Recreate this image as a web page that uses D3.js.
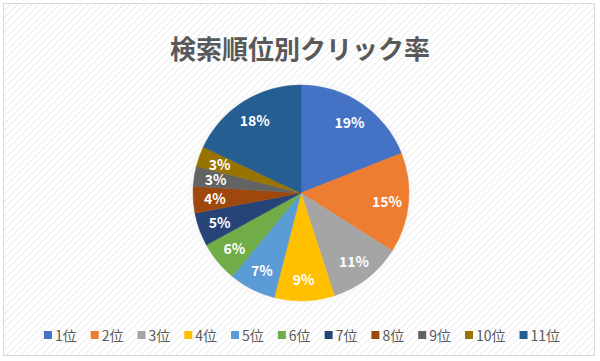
<!DOCTYPE html>
<html>
<head>
<meta charset="utf-8">
<script src="https://cdn.jsdelivr.net/npm/d3@7"></script>
<style>
  body { margin: 0; background: #fff; }
  text { font-family: "Noto Sans CJK JP", "Noto Sans", sans-serif; }
</style>
</head>
<body>
<script>
var title = "検索順位別クリック率";
var categories = ["1位", "2位", "3位", "4位", "5位", "6位", "7位", "8位", "9位", "10位", "11位"];
var values = [19, 15, 11, 9, 7, 6, 5, 4, 3, 3, 18];
var colors = ["#4472C4", "#ED7D31", "#A5A5A5", "#FFC000", "#5B9BD5", "#70AD47",
              "#264478", "#9E480E", "#636363", "#997300", "#255E91"];

var width = 600, height = 361;
var cx = 301, cy = 193, radius = 108;

var data = categories.map(function(c, i) { return { name: c, value: values[i] }; });

var svg = d3.select("body").append("svg")
    .attr("width", width)
    .attr("height", height);

var defs = svg.append("defs");
var pat = defs.append("pattern")
    .attr("id", "hatch")
    .attr("patternUnits", "userSpaceOnUse")
    .attr("width", 5).attr("height", 5)
    .attr("patternTransform", "rotate(45)");
pat.append("rect").attr("width", 5).attr("height", 5).attr("fill", "#ffffff");
pat.append("line")
    .attr("x1", 0).attr("y1", 0).attr("x2", 0).attr("y2", 5)
    .attr("stroke", "#ececec").attr("stroke-width", 2);

var glow = defs.append("radialGradient").attr("id", "glow");
glow.append("stop").attr("offset", "0.85").attr("stop-color", "#e6e6e6").attr("stop-opacity", 0.9);
glow.append("stop").attr("offset", "1").attr("stop-color", "#ffffff").attr("stop-opacity", 0);

// background frame
svg.append("rect")
    .attr("x", 3.5).attr("y", 3.5)
    .attr("width", 591).attr("height", 352)
    .attr("fill", "url(#hatch)")
    .attr("stroke", "#d9d9d9");

svg.append("text")
    .attr("x", width / 2)
    .attr("y", 47)
    .attr("text-anchor", "middle")
    .attr("dominant-baseline", "central")
    .style("font-size", "26px")
    .style("font-weight", "bold")
    .style("fill", "#595959")
    .text(title);

var g = svg.append("g")
    .attr("transform", "translate(" + cx + "," + cy + ")");

g.append("circle").attr("r", radius + 10).attr("fill", "url(#glow)");

var pie = d3.pie().sort(null).value(function(d) { return d.value; });
var arc = d3.arc().innerRadius(0).outerRadius(radius);
var labelArc = d3.arc().innerRadius(radius * 0.8).outerRadius(radius * 0.8);

var arcs = pie(data);

g.selectAll("path")
    .data(arcs)
    .enter().append("path")
    .attr("d", arc)
    .attr("fill", function(d, i) { return colors[i]; })
    .attr("stroke", function(d, i) { return colors[i]; })
    .attr("stroke-width", 0.5);

g.selectAll(".lbl")
    .data(arcs)
    .enter().append("text")
    .attr("class", "lbl")
    .attr("transform", function(d) { return "translate(" + labelArc.centroid(d) + ")"; })
    .attr("text-anchor", "middle")
    .attr("dominant-baseline", "central")
    .style("font-size", "14px")
    .style("font-weight", "bold")
    .style("fill", "#ffffff")
    .text(function(d) { return d.data.value + "%"; });

// legend
var legend = svg.append("g").attr("class", "legend");
var items = legend.selectAll("g")
    .data(data)
    .enter().append("g");

items.append("rect")
    .attr("width", 8).attr("height", 8)
    .attr("y", -4)
    .attr("fill", function(d, i) { return colors[i]; });

items.append("text")
    .attr("x", 11)
    .attr("dominant-baseline", "central")
    .style("font-size", "14px")
    .style("fill", "#595959")
    .text(function(d) { return d.name; });

var xpos = 0;
items.each(function() {
  var w = d3.select(this).select("text").node().getComputedTextLength();
  d3.select(this).attr("transform", "translate(" + xpos + ",0)");
  xpos += 11 + w + 14;
});
var total = xpos - 14;
legend.attr("transform", "translate(" + ((width - total) / 2 + 2) + ",335)");
</script>
</body>
</html>
